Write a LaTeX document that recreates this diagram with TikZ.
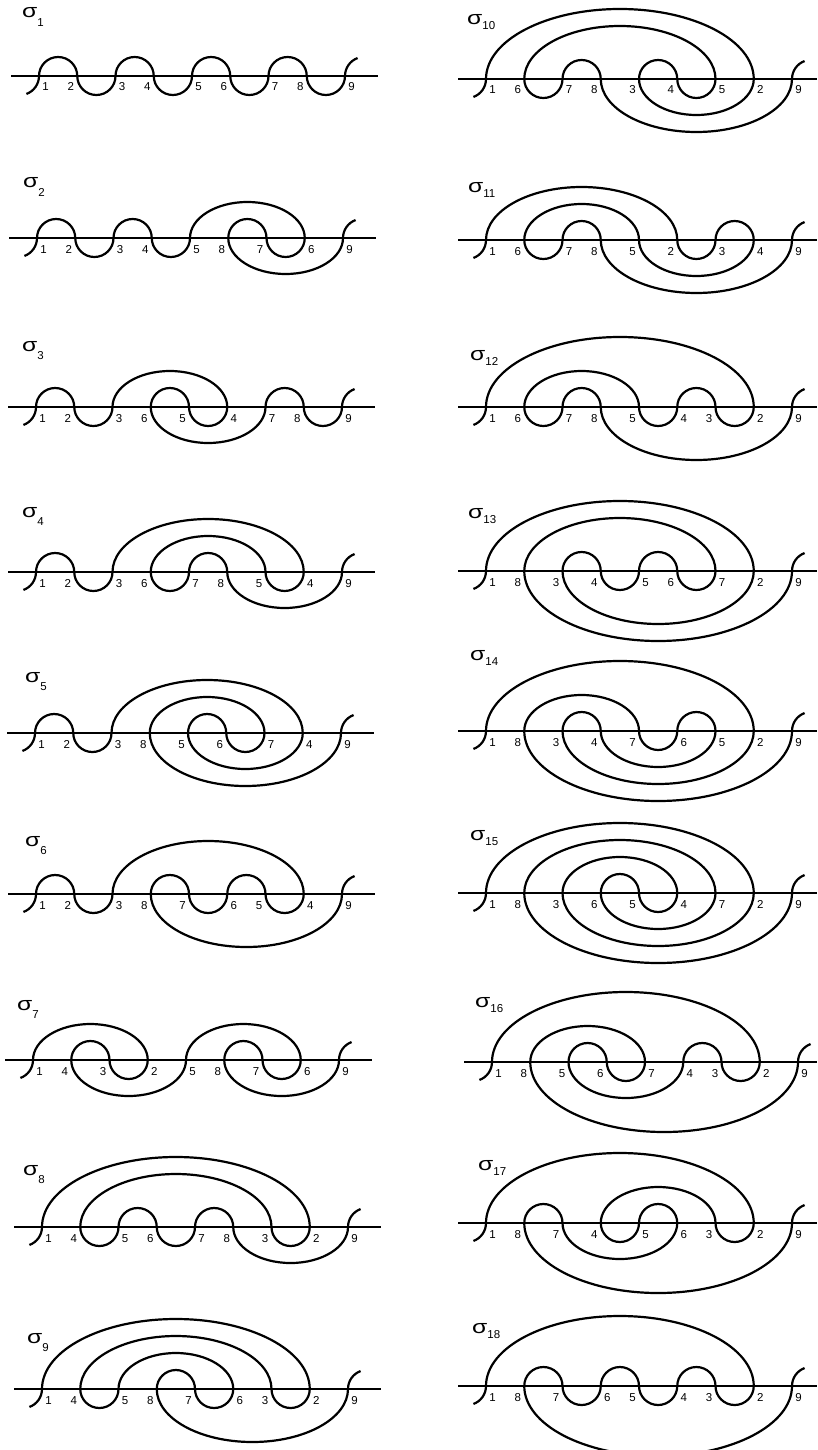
\documentclass[tikz,border=0pt]{standalone}
\usepackage{fontspec}
\setmainfont{Liberation Sans}
\usetikzlibrary{calc}

\tikzset{
  strand/.style={line width=2.2pt},
  axisline/.style={line width=2.2pt},
  crosslabel/.style={font=\fontsize{11.5}{11.5}\selectfont, inner sep=0pt, anchor=base},
  signame/.style={inner sep=0pt, anchor=base west},
}
\newcommand\spc{38.25}

% #1 name, #2 x of first crossing, #3 y of line, #4 labels left to right, #5 index, #6/#7 place of the sigma
\newcommand\meander[7]{%
  \coordinate (#1-0) at ({#2-\spc},#3);
  \foreach \lab [count=\pos] in {#4}
    \coordinate (#1-\lab) at ({#2+(\pos-1)*\spc},#3);
  \coordinate (#1-w) at ({#2-28},#3);
  \coordinate (#1-e) at ({min(#2+8*\spc+33,817)},#3);
  \draw[axisline] (#1-w) -- (#1-e);
  \draw[strand] (#1-1) arc[start angle=0,end angle=-70,radius=19.1pt];
  \draw[strand] (#1-9) arc[start angle=180,end angle=110,radius=19.1pt];
  \foreach \k [evaluate=\k as \kk using int(\k+1), evaluate=\k as \sg using round(cos(180*(\k+1)))] in {1,...,8}
    \draw[strand] let \p1=(#1-\k), \p2=(#1-\kk), \n1={(\x2-\x1)/2},
        \n2={\sg*(10.5+8.5*abs(\x2-\x1)/\spc)} in
      (\p1) .. controls +(0,{0.5523*\n2}) and +({-0.5523*\n1},0) .. ({\x1+\n1},{\y1+\n2})
      .. controls +({0.5523*\n1},0) and +(0,{0.5523*\n2}) .. (\p2);
  \foreach \k [evaluate=\k as \pp using round(\k+cos(180*\k))] in {1,...,9}
    \path let \p1=(#1-\k), \p2=(#1-\pp), \n1={ifthenelse(\x1>\x2,6.5,-6.5)} in
      node[crosslabel] (#1-l\k) at ({\x1+\n1},{\y1-15}) {\k};
  \node[signame] (#1-name) at (#6,#7)
    {\scalebox{1.3}[1]{\fontsize{19}{19}\selectfont σ}\raisebox{\ifnum#5>9 -5pt\else -8.5pt\fi}{\fontsize{11.5}{11.5}\selectfont #5}};
}

\begin{document}
\begin{tikzpicture}[x=1pt, y=1pt]
\useasboundingbox (0,0) rectangle (817,-1450);
\meander{s1}{39}{-76}{1,2,3,4,5,6,7,8,9}{1}{22}{-18}
\meander{s2}{37}{-238}{1,2,3,4,5,8,7,6,9}{2}{23}{-188}
\meander{s3}{36}{-407}{1,2,3,6,5,4,7,8,9}{3}{22}{-351}
\meander{s4}{36}{-572}{1,2,3,6,7,8,5,4,9}{4}{22}{-517}
\meander{s5}{35}{-733}{1,2,3,8,5,6,7,4,9}{5}{25}{-682}
\meander{s6}{36}{-894}{1,2,3,8,7,6,5,4,9}{6}{25}{-846}
\meander{s7}{33}{-1060}{1,4,3,2,5,8,7,6,9}{7}{17}{-1010}
\meander{s8}{42}{-1227}{1,4,5,6,7,8,3,2,9}{8}{23}{-1175}
\meander{s9}{42}{-1389}{1,4,5,8,7,6,3,2,9}{9}{27}{-1343}
\meander{s10}{486}{-79}{1,6,7,8,3,4,5,2,9}{10}{467}{-25}
\meander{s11}{486}{-240}{1,6,7,8,5,2,3,4,9}{11}{468}{-193}
\meander{s12}{486}{-407}{1,6,7,8,5,4,3,2,9}{12}{470}{-360}
\meander{s13}{486}{-571}{1,8,3,4,5,6,7,2,9}{13}{468}{-518}
\meander{s14}{486}{-731}{1,8,3,4,7,6,5,2,9}{14}{470}{-660}
\meander{s15}{486}{-893}{1,8,3,6,5,4,7,2,9}{15}{470}{-840}
\meander{s16}{492}{-1062}{1,8,5,6,7,4,3,2,9}{16}{475}{-1007}
\meander{s17}{486}{-1223}{1,8,7,4,5,6,3,2,9}{17}{478}{-1170}
\meander{s18}{486}{-1386}{1,8,7,6,5,4,3,2,9}{18}{472}{-1333}
\end{tikzpicture}
\end{document}
